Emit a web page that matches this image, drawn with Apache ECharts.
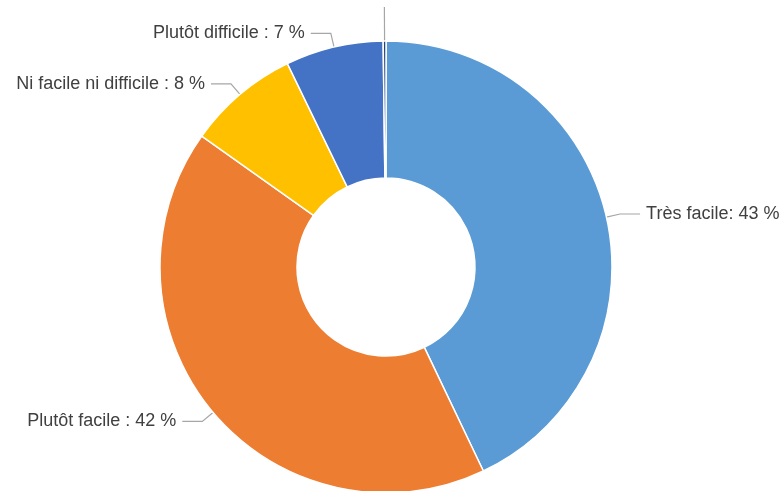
<!DOCTYPE html>
<html>
<head>
<meta charset="utf-8">
<script src="https://cdn.jsdelivr.net/npm/echarts@6/dist/echarts.min.js"></script>
<style>
  html, body { margin: 0; padding: 0; background: #fff; }
  #chart { width: 782px; height: 491px; }
</style>
</head>
<body>
<div id="chart"></div>
<script>
// Answer categories and their shares (%)
const categories = ['Très facile', 'Plutôt facile', 'Ni facile ni difficile', 'Plutôt difficile', 'Très difficile'];
const shares = [43, 42, 8, 7, 0.2];
const labelTexts = ['Très facile: 43 %', 'Plutôt facile : 42 %', 'Ni facile ni difficile : 8 %', 'Plutôt difficile : 7 %', ''];

const colors = ['#5B9BD5', '#ED7D31', '#FFC000', '#4472C4', '#264478'];

const chart = echarts.init(document.getElementById('chart'));

const data = categories.map((name, i) => {
  const item = {
    name: name,
    value: shares[i],
    itemStyle: { color: colors[i] }
  };
  if (i === 4) {
    item.labelLine = { length: 34, length2: 0 };
  }
  return item;
});

chart.setOption({
  animation: false,
  series: [{
    type: 'pie',
    center: [386, 267],
    radius: [89, 226],
    startAngle: 90,
    clockwise: true,
    avoidLabelOverlap: false,
    itemStyle: { borderColor: '#ffffff', borderWidth: 1.5 },
    label: {
      show: true,
      position: 'outside',
      formatter: p => labelTexts[p.dataIndex],
      fontFamily: 'Liberation Sans, Arial, sans-serif',
      fontSize: 18,
      color: '#404040',
      distanceToLabelLine: 6,
      padding: [4, 0, 0, 0]
    },
    labelLine: {
      show: true,
      length: 14,
      length2: 20,
      smooth: false,
      lineStyle: { color: '#A6A6A6', width: 1.2 }
    },
    emphasis: { disabled: true },
    data: data
  }]
});
</script>
</body>
</html>
